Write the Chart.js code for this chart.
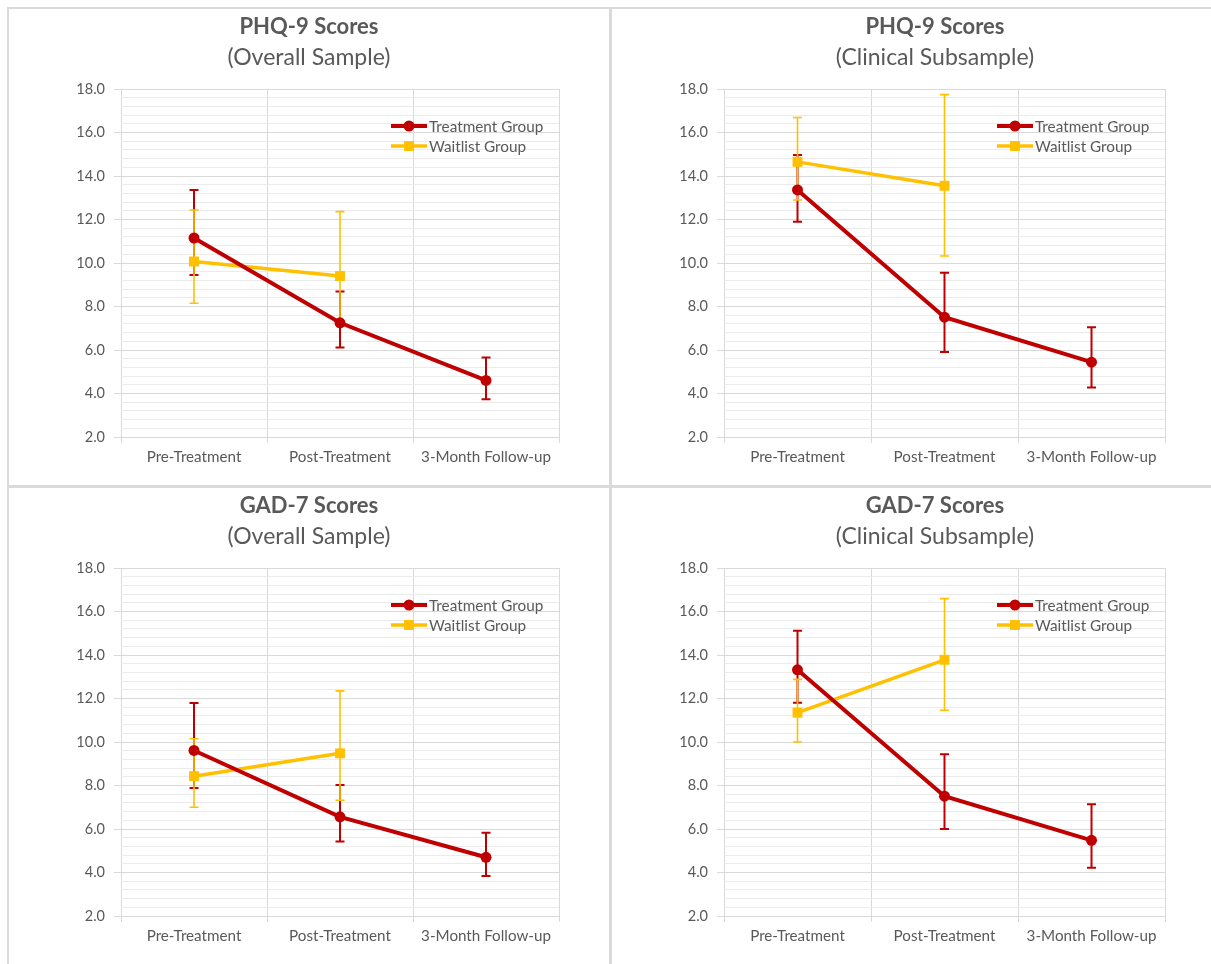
<!DOCTYPE html>
<html><head><meta charset="utf-8">
<script src="https://cdn.jsdelivr.net/npm/chart.js@4.4.1/dist/chart.umd.min.js"></script>
<style>
html,body{margin:0;padding:0;background:#fff;overflow:hidden;width:1211px;height:964px;}
#wrap{position:relative;width:1211px;height:964px;overflow:hidden;background:#fff;}
.line{position:absolute;background:#dadada;}
canvas{position:absolute;}
</style></head><body>
<div id="wrap">
  <div class="line" style="left:7px;top:7px;width:1204px;height:2px"></div>
  <div class="line" style="left:7px;top:7px;width:2px;height:957px"></div>
  <div class="line" style="left:609px;top:7px;width:3px;height:957px"></div>
  <div class="line" style="left:7px;top:485px;width:1204px;height:3px"></div>
  <canvas id="c1" width="600" height="476" style="left:9px;top:9px"></canvas>
  <canvas id="c2" width="646" height="476" style="left:612px;top:9px"></canvas>
  <canvas id="c3" width="600" height="476" style="left:9px;top:488px"></canvas>
  <canvas id="c4" width="646" height="476" style="left:612px;top:488px"></canvas>
</div>
<script>
// ---- data ----
const categories = ['Pre-Treatment', 'Post-Treatment', '3-Month Follow-up'];
const seriesNames = ['Treatment Group', 'Waitlist Group'];
const yMin = 2, yMax = 18, yMajorStep = 2, yMinorStep = 0.4;

const titles = ['PHQ-9 Scores', 'PHQ-9 Scores', 'GAD-7 Scores', 'GAD-7 Scores'];
const subtitles = ['(Overall Sample)', '(Clinical Subsample)', '(Overall Sample)', '(Clinical Subsample)'];

// PHQ-9 Overall Sample
const phqOverallTreatment     = [11.15, 7.25, 4.60];
const phqOverallTreatmentHigh = [13.36, 8.69, 5.66];
const phqOverallTreatmentLow  = [9.45, 6.12, 3.73];
const phqOverallWaitlist      = [10.07, 9.40, null];
const phqOverallWaitlistHigh  = [12.44, 12.36, null];
const phqOverallWaitlistLow   = [8.15, 7.30, null];

// PHQ-9 Clinical Subsample
const phqClinicalTreatment     = [13.36, 7.51, 5.44];
const phqClinicalTreatmentHigh = [14.97, 9.55, 7.05];
const phqClinicalTreatmentLow  = [11.90, 5.91, 4.28];
const phqClinicalWaitlist      = [14.65, 13.55, null];
const phqClinicalWaitlistHigh  = [16.69, 17.74, null];
const phqClinicalWaitlistLow   = [12.90, 10.32, null];

// GAD-7 Overall Sample
const gadOverallTreatment     = [9.61, 6.56, 4.70];
const gadOverallTreatmentHigh = [11.79, 8.02, 5.83];
const gadOverallTreatmentLow  = [7.88, 5.42, 3.84];
const gadOverallWaitlist      = [8.43, 9.48, null];
const gadOverallWaitlistHigh  = [10.15, 12.35, null];
const gadOverallWaitlistLow   = [7.00, 7.32, null];

// GAD-7 Clinical Subsample
const gadClinicalTreatment     = [13.32, 7.51, 5.48];
const gadClinicalTreatmentHigh = [15.11, 9.44, 7.14];
const gadClinicalTreatmentLow  = [11.80, 6.00, 4.22];
const gadClinicalWaitlist      = [11.35, 13.78, null];
const gadClinicalWaitlistHigh  = [12.88, 16.59, null];
const gadClinicalWaitlistLow   = [10.00, 11.46, null];

// ---- styling ----
const FONT = 'Lato, "Open Sans", sans-serif';
const TEXT = '#595959';
const RED = '#C00000';
const GOLD = '#FFC000';
const MAJOR = '#d9d9d9';
const MINOR = '#ebebeb';

const isMajor = v => Math.abs(v / yMajorStep - Math.round(v / yMajorStep)) < 1e-6;

const errorBarPlugin = {
  id: 'errorBars',
  beforeDatasetsDraw(chart) {
    const ctx = chart.ctx, xs = chart.scales.x, ys = chart.scales.y;
    chart.data.datasets.forEach(ds => {
      ctx.save();
      ctx.strokeStyle = ds.errColor;
      ctx.lineWidth = ds.errWidth;
      const cap = 4.5;
      ds.errHigh.forEach((hi, i) => {
        const lo = ds.errLow[i];
        if (hi == null || lo == null) return;
        const px = xs.getPixelForValue(i);
        const ph = ys.getPixelForValue(hi), pl = ys.getPixelForValue(lo);
        ctx.beginPath();
        ctx.moveTo(px, ph); ctx.lineTo(px, pl);
        ctx.moveTo(px - cap, ph); ctx.lineTo(px + cap, ph);
        ctx.moveTo(px - cap, pl); ctx.lineTo(px + cap, pl);
        ctx.stroke();
      });
      ctx.restore();
    });
  }
};

const legendPlugin = {
  id: 'insideLegend',
  afterDatasetsDraw(chart) {
    const ctx = chart.ctx, a = chart.chartArea;
    chart.data.datasets.forEach((ds, i) => {
      const y = a.top + 37 + i * 20;
      const x0 = a.right - 168, x1 = a.right - 132;
      ctx.save();
      ctx.strokeStyle = ds.borderColor;
      ctx.lineWidth = ds.borderWidth;
      ctx.beginPath(); ctx.moveTo(x0, y); ctx.lineTo(x1, y); ctx.stroke();
      ctx.fillStyle = ds.borderColor;
      const cx = (x0 + x1) / 2;
      if (ds.pointStyle === 'rect') {
        const s = ds.pointRadius * Math.SQRT1_2;
        ctx.fillRect(cx - s, y - s, 2 * s, 2 * s);
      } else {
        ctx.beginPath(); ctx.arc(cx, y, ds.pointRadius, 0, Math.PI * 2); ctx.fill();
      }
      ctx.fillStyle = TEXT;
      ctx.font = '15.3px ' + FONT;
      ctx.textBaseline = 'middle';
      ctx.textAlign = 'left';
      ctx.fillText(ds.label, a.right - 130, y + 1);
      ctx.restore();
    });
  }
};

function makeChart(id, idx, tr, trHi, trLo, wl, wlHi, wlLo, rightPad) {
  return new Chart(document.getElementById(id), {
    type: 'line',
    data: {
      labels: categories,
      datasets: [
        { label: seriesNames[0], data: tr, errHigh: trHi, errLow: trLo,
          errColor: RED, errWidth: 2,
          borderColor: RED, backgroundColor: RED, borderWidth: 4,
          pointStyle: 'circle', pointRadius: 5.5, pointBackgroundColor: RED,
          pointBorderColor: RED, pointBorderWidth: 0, tension: 0 },
        { label: seriesNames[1], data: wl, errHigh: wlHi, errLow: wlLo,
          errColor: GOLD, errWidth: 1.6,
          borderColor: GOLD, backgroundColor: GOLD, borderWidth: 3.5,
          pointStyle: 'rect', pointRadius: 7, pointBackgroundColor: GOLD,
          pointBorderColor: GOLD, pointBorderWidth: 0, tension: 0 }
      ]
    },
    options: {
      responsive: false, animation: false, devicePixelRatio: 1,
      layout: { padding: 0 },
      plugins: {
        legend: { display: false },
        tooltip: { enabled: false },
        title: { display: true, text: titles[idx], color: TEXT,
          font: { family: FONT, size: 22, weight: 'bold', lineHeight: 1.2 },
          padding: { top: 5, bottom: 3 } },
        subtitle: { display: true, text: subtitles[idx], color: TEXT,
          font: { family: FONT, size: 23, weight: 'normal', lineHeight: 1.2 },
          padding: { top: 0, bottom: 18 } }
      },
      scales: {
        x: {
          offset: true,
          grid: { offset: true, color: MAJOR, tickColor: MAJOR, tickLength: 6, lineWidth: 1 },
          border: { display: false },
          ticks: { color: TEXT, font: { family: FONT, size: 15.2 }, padding: 5, maxRotation: 0, autoSkip: false },
          afterFit(s) { s.height = 48; }
        },
        y: {
          min: yMin, max: yMax,
          grid: {
            color: c => isMajor(c.tick.value) ? MAJOR : MINOR,
            tickColor: c => isMajor(c.tick.value) ? MAJOR : 'rgba(0,0,0,0)',
            tickLength: 7, lineWidth: 1
          },
          border: { display: false },
          ticks: { stepSize: yMinorStep, autoSkip: false, color: TEXT,
            font: { family: FONT, size: 14.5 }, padding: 9,
            callback: v => isMajor(v) ? Number(v).toFixed(1) : '' },
          afterFit(s) { s.width = 112; }
        },
        y2: {
          position: 'right', display: true,
          grid: { display: false }, border: { display: false }, ticks: { display: false },
          afterFit(s) { s.width = rightPad; }
        }
      }
    },
    plugins: [errorBarPlugin, legendPlugin]
  });
}

makeChart('c1', 0, phqOverallTreatment, phqOverallTreatmentHigh, phqOverallTreatmentLow,
  phqOverallWaitlist, phqOverallWaitlistHigh, phqOverallWaitlistLow, 50);
makeChart('c2', 1, phqClinicalTreatment, phqClinicalTreatmentHigh, phqClinicalTreatmentLow,
  phqClinicalWaitlist, phqClinicalWaitlistHigh, phqClinicalWaitlistLow, 93);
makeChart('c3', 2, gadOverallTreatment, gadOverallTreatmentHigh, gadOverallTreatmentLow,
  gadOverallWaitlist, gadOverallWaitlistHigh, gadOverallWaitlistLow, 50);
makeChart('c4', 3, gadClinicalTreatment, gadClinicalTreatmentHigh, gadClinicalTreatmentLow,
  gadClinicalWaitlist, gadClinicalWaitlistHigh, gadClinicalWaitlistLow, 93);
</script>
</body></html>
